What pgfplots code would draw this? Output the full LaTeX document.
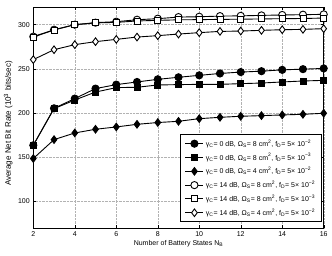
\documentclass[border=0pt]{standalone}
\usepackage{fontspec}
\setmainfont{Liberation Sans}
\usepackage{pgfplots}
\pgfplotsset{compat=1.18}
\begin{document}
\begin{tikzpicture}
\useasboundingbox (-33.3pt,-27pt) rectangle (298.7pt,228pt);
\begin{axis}[
  scale only axis, width=290.4pt, height=221pt,
  at={(0pt,0pt)}, anchor=south west,
  xmin=2, xmax=16, ymin=70, ymax=320,
  xtick={2,4,...,16}, ytick={100,150,...,300},
  grid=major, grid style={densely dotted, gray!60, line width=0.4pt},
  axis line style={black, line width=0.6pt},
  tick style={black, line width=0.4pt}, major tick length=3pt,
  tick align=inside,
  /pgf/number format/assume math mode=true,
  tick label style={font=\fontsize{7}{8}\selectfont},
  every axis y label/.style={at={([xshift=-25pt,yshift=-6pt]axis description cs:0,0.5)}, rotate=90, anchor=center, font=\fontsize{8}{9}\selectfont},
  every axis x label/.style={at={([yshift=-16pt]axis description cs:0.5,0)}, anchor=center, font=\fontsize{7}{8}\selectfont},
  xlabel={Number of Battery States N\textsubscript{B}},
  ylabel={Average Net Bit Rate (10\textsuperscript{3} bits/sec)},
  legend style={at={(rel axis cs:0.994,0.027)}, anchor=south east, font=\fontsize{7}{8}\selectfont, draw=black, line width=0.6pt, row sep=1.8pt, inner xsep=4.5pt, inner ysep=3pt, cells={anchor=west}},
  legend image code/.code={\draw[mark repeat=2,mark phase=2] plot coordinates {(0pt,0pt)(9pt,0pt)(18pt,0pt)};},
  every axis plot/.append style={black, line width=0.9pt},
]
\addplot[mark=*, mark size=3.6pt, mark options={fill=black}] coordinates {
(2,163.6)(3,205.4)(4,216.4)(5,227.7)(6,232.2)(7,235.2)(8,238.2)(9,240.5)(10,242.7)(11,244.8)(12,246.4)(13,247.4)(14,248.9)(15,249.7)(16,250.5)};
\addlegendentry{γ\textsubscript{C}= 0 dB, Ω\textsubscript{S}= 8 cm\textsuperscript{2}, f\textsubscript{D}= 5× 10\textsuperscript{−2}}
\addplot[mark=square*, mark size=3pt, mark options={fill=black}] coordinates {
(2,163.6)(3,205)(4,214.8)(5,223.8)(6,228.8)(7,229.2)(8,231.8)(9,232.2)(10,232.5)(11,232.5)(12,233.3)(13,234)(14,235.2)(15,236.3)(16,237)};
\addlegendentry{γ\textsubscript{C}= 0 dB, Ω\textsubscript{S}= 8 cm\textsuperscript{2}, f\textsubscript{D}= 5× 10\textsuperscript{−3}}
\addplot[mark=diamond*, mark size=3.8pt, mark options={fill=black}] coordinates {
(2,148.6)(3,170)(4,177.5)(5,181.7)(6,184.3)(7,187.3)(8,189.3)(9,190.7)(10,193.7)(11,195.2)(12,196.4)(13,197.1)(14,197.9)(15,198.6)(16,199.8)};
\addlegendentry{γ\textsubscript{C}= 0 dB, Ω\textsubscript{S}= 4 cm\textsuperscript{2}, f\textsubscript{D}= 5× 10\textsuperscript{−2}}
\addplot[mark=*, mark size=3.6pt, mark options={fill=white}] coordinates {
(2,286.5)(3,294.3)(4,300)(5,302.3)(6,303.4)(7,305.6)(8,306.8)(9,308.6)(10,309)(11,309.7)(12,310)(13,310.5)(14,311)(15,311.3)(16,311.7)};
\addlegendentry{γ\textsubscript{C}= 14 dB, Ω\textsubscript{S}= 8 cm\textsuperscript{2}, f\textsubscript{D}= 5× 10\textsuperscript{−2}}
\addplot[mark=square*, mark size=3pt, mark options={fill=white}] coordinates {
(2,286)(3,294)(4,300)(5,302)(6,302.6)(7,304.2)(8,304.9)(9,305.5)(10,305.7)(11,306)(12,306.2)(13,306.5)(14,306.8)(15,307)(16,307.5)};
\addlegendentry{γ\textsubscript{C}= 14 dB, Ω\textsubscript{S}= 8 cm\textsuperscript{2}, f\textsubscript{D}= 5× 10\textsuperscript{−3}}
\addplot[mark=diamond*, mark size=3.8pt, mark options={fill=white}] coordinates {
(2,260.5)(3,271.7)(4,277.4)(5,280.8)(6,283.4)(7,286)(8,287.6)(9,289.4)(10,291)(11,292.4)(12,292.8)(13,293.6)(14,294.3)(15,294.7)(16,295.5)};
\addlegendentry{γ\textsubscript{C}= 14 dB, Ω\textsubscript{S}= 4 cm\textsuperscript{2}, f\textsubscript{D}= 5× 10\textsuperscript{−2}}
\end{axis}
\end{tikzpicture}
\end{document}
